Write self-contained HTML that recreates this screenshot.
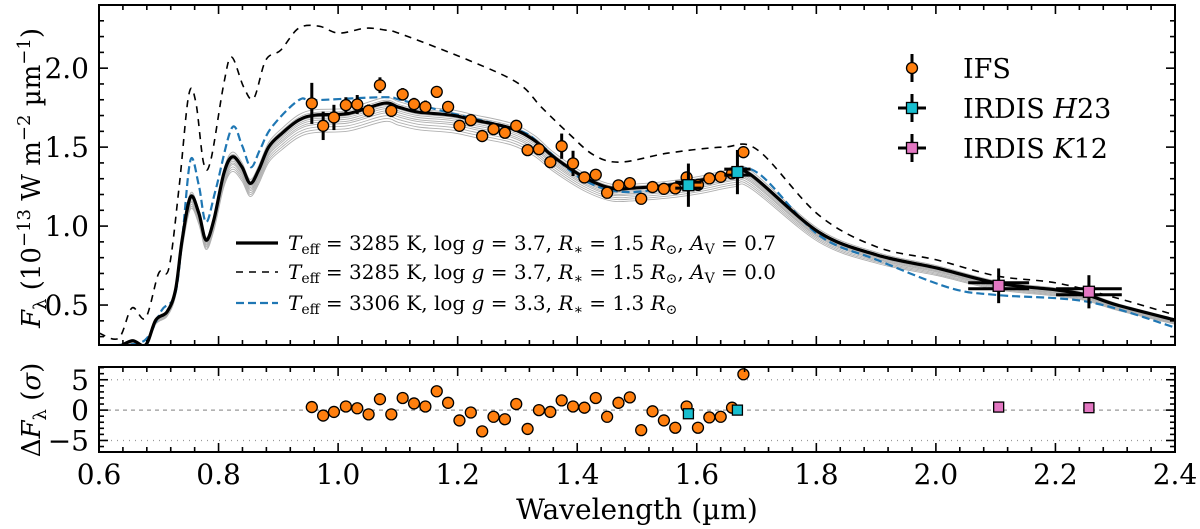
<!DOCTYPE html>
<html><head><meta charset="utf-8">
<style>
html,body{margin:0;padding:0;background:#fff;}
svg{display:block;font-family:"DejaVu Serif","Liberation Serif",serif;}
</style></head>
<body>
<svg id="chart" width="1200" height="529" viewBox="0 0 1200 529" xmlns="http://www.w3.org/2000/svg"></svg>
<script>
// ---- data ----
const ifsWave = [0.956,0.975,0.993,1.013,1.032,1.051,1.070,1.089,1.108,1.127,1.146,1.165,1.184,1.203,1.222,1.241,1.260,1.279,1.298,1.317,1.336,1.355,1.374,1.393,1.412,1.431,1.450,1.469,1.488,1.507,1.526,1.545,1.564,1.583,1.602,1.621,1.640,1.659,1.678];
const ifsFlux = [1.777,1.635,1.688,1.766,1.770,1.730,1.892,1.730,1.834,1.772,1.755,1.850,1.755,1.635,1.671,1.570,1.614,1.591,1.635,1.481,1.487,1.405,1.506,1.397,1.308,1.325,1.211,1.258,1.272,1.173,1.247,1.236,1.239,1.308,1.261,1.302,1.312,1.334,1.468];
const ifsErr = [0.13,0.09,0.08,0.05,0.06,0.04,0.05,0.04,0.04,0.04,0.04,0.03,0.03,0.02,0.02,0.02,0.02,0.02,0.02,0.02,0.02,0.03,0.08,0.08,0.02,0.02,0.02,0.02,0.02,0.02,0.02,0.02,0.02,0.02,0.02,0.02,0.02,0.02,0.02];
const ifsResid = [0.5,-0.9,-0.3,0.6,0.3,-0.7,1.8,-0.7,2.0,1.1,0.6,3.1,1.2,-1.7,-0.4,-3.5,-1.1,-1.5,1.0,-3.1,0.0,-0.3,1.6,0.6,0.4,2.0,-1.1,1.2,2.1,-3.3,-0.2,-1.7,-2.9,0.6,-2.9,-1.2,-1.1,0.4,5.9];
const h23Wave = [1.586,1.668];
const h23Flux = [1.259,1.342];
const h23WErr = [0.022,0.022];
const h23FErr = [0.137,0.14];
const h23Resid = [-0.6,0.0];
const k12Wave = [2.105,2.256];
const k12Flux = [0.622,0.584];
const k12WErr = [0.051,0.055];
const k12FErr = [0.11,0.105];
const k12Resid = [0.5,0.4];
const modelWave = [0.633,0.656,0.678,0.695,0.714,0.728,0.739,0.753,0.767,0.779,0.792,0.809,0.823,0.839,0.853,0.867,0.884,0.906,0.934,0.962,1.017,1.077,1.101,1.134,1.189,1.228,1.289,1.328,1.361,1.411,1.456,1.495,1.552,1.607,1.662,1.691,1.804,1.902,2.002,2.102,2.203,2.253,2.303,2.4];
const modelFlux = [0.234,0.274,0.247,0.405,0.458,0.595,0.911,1.185,1.082,0.911,1.038,1.335,1.439,1.375,1.270,1.354,1.502,1.587,1.671,1.703,1.713,1.778,1.753,1.722,1.703,1.671,1.620,1.544,1.437,1.310,1.241,1.241,1.259,1.291,1.335,1.323,0.962,0.816,0.734,0.639,0.595,0.563,0.500,0.405];
const noExtWave = [0.600,0.633,0.655,0.678,0.700,0.717,0.734,0.750,0.762,0.775,0.787,0.809,0.822,0.842,0.859,0.879,0.904,0.934,0.968,1.001,1.046,1.079,1.101,1.218,1.301,1.340,1.385,1.428,1.473,1.552,1.645,1.702,1.804,1.902,2.002,2.102,2.203,2.303,2.4];
const noExtFlux = [0.323,0.291,0.481,0.418,0.703,0.734,1.247,1.829,1.785,1.399,1.418,1.905,2.070,1.880,1.810,2.051,2.114,2.253,2.266,2.222,2.253,2.241,2.222,2.051,1.905,1.753,1.589,1.449,1.405,1.462,1.500,1.481,1.070,0.867,0.785,0.684,0.639,0.544,0.437];
const altWave = [0.633,0.677,0.705,0.727,0.739,0.753,0.767,0.779,0.795,0.822,0.839,0.854,0.869,0.889,0.934,0.962,1.077,1.106,1.189,1.301,1.340,1.411,1.490,1.607,1.662,1.707,1.804,1.902,2.024,2.104,2.256,2.403];
const altFlux = [0.247,0.278,0.468,0.563,0.911,1.418,1.259,1.025,1.228,1.620,1.513,1.373,1.481,1.627,1.797,1.797,1.816,1.797,1.715,1.608,1.513,1.291,1.215,1.291,1.354,1.323,0.943,0.785,0.608,0.563,0.519,0.354];
const gridScale = [0.935,0.945,0.955,0.965,0.972,0.98,0.987,0.993,1.0,1.01,1.02];
const xTicks = [0.6,0.8,1.0,1.2,1.4,1.6,1.8,2.0,2.2,2.4];
const xTickLabels = ["0.6","0.8","1.0","1.2","1.4","1.6","1.8","2.0","2.2","2.4"];
const yTicks = [0.5,1.0,1.5,2.0];
const yTickLabels = ["0.5","1.0","1.5","2.0"];
const rTicks = [-5,0,5];
const rTickLabels = ["\u22125","0","5"];

// ---- scales ----
const L=99, R=1175, T1=5, B1=345, T2=367, B2=452;
const X0=0.6, X1=2.4, Y0=0.247, Y1=2.40, RY0=-6.9, RY1=7.1;
const sx = w => L + (w-X0)/(X1-X0)*(R-L);
const sy = f => B1 - (f-Y0)/(Y1-Y0)*(B1-T1);
const sr = r => B2 - (r-RY0)/(RY1-RY0)*(B2-T2);

const NS="http://www.w3.org/2000/svg";
const svg=document.getElementById('chart');
function mk(tag, attrs, parent){const e=document.createElementNS(NS,tag);for(const k in attrs)e.setAttribute(k,attrs[k]);(parent||svg).appendChild(e);return e;}

const defs=mk('defs',{});
const c1=mk('clipPath',{id:'clipTop'},defs); mk('rect',{x:L,y:T1,width:R-L,height:B1-T1},c1);
const c2=mk('clipPath',{id:'clipBot'},defs); mk('rect',{x:L,y:T2,width:R-L,height:B2-T2},c2);

const gTop=mk('g',{'clip-path':'url(#clipTop)'});



// smooth Catmull-Rom path through data points
function pathFrom(ws, fs, scale){
  const P=ws.map((w,i)=>[sx(w),sy(fs[i]*scale)]);
  let d='M'+P[0][0].toFixed(1)+','+P[0][1].toFixed(1);
  for(let i=0;i<P.length-1;i++){
    const p0=P[Math.max(0,i-1)],p1=P[i],p2=P[i+1],p3=P[Math.min(P.length-1,i+2)];
    const c1x=p1[0]+(p2[0]-p0[0])/6, c1y=p1[1]+(p2[1]-p0[1])/6;
    const c2x=p2[0]-(p3[0]-p1[0])/6, c2y=p2[1]-(p3[1]-p1[1])/6;
    d+='C'+c1x.toFixed(1)+','+c1y.toFixed(1)+' '+c2x.toFixed(1)+','+c2y.toFixed(1)+' '+p2[0].toFixed(1)+','+p2[1].toFixed(1);
  }
  return d;
}

for(let k=0;k<gridScale.length;k++){
  const p=mk('path',{d:pathFrom(modelWave,modelFlux,gridScale[k]),fill:'none',stroke:'#b0b0b0','stroke-width':0.9},gTop);
  
  
}
let p=mk('path',{d:pathFrom(noExtWave,noExtFlux,1),fill:'none',stroke:'#000','stroke-width':1.6,'stroke-dasharray':'7,6'},gTop);


p=mk('path',{d:pathFrom(altWave,altFlux,1),fill:'none',stroke:'#1f77b4','stroke-width':2.2,'stroke-dasharray':'8,4'},gTop);


p=mk('path',{d:pathFrom(modelWave,modelFlux,1),fill:'none',stroke:'#000','stroke-width':3.2},gTop);



for(let i=0;i<ifsWave.length;i++){
  const x=sx(ifsWave[i]);
  const e=mk('line',{x1:x,x2:x,y1:sy(ifsFlux[i]+ifsErr[i]),y2:sy(ifsFlux[i]-ifsErr[i]),stroke:'#000','stroke-width':3},gTop);
  
  
}
for(let i=0;i<ifsWave.length;i++){
  const c=mk('circle',{cx:sx(ifsWave[i]),cy:sy(ifsFlux[i]),r:5.5,fill:'#ff7f0e',stroke:'#000','stroke-width':1.3},gTop);
  
  
}
function photPoint(ws,fs,we,fe,color,name,g){
  for(let i=0;i<ws.length;i++){
    const x=sx(ws[i]), y=sy(fs[i]);
    for(const off of [-3,3]){
      const h=mk('line',{x1:sx(ws[i]-we[i]),x2:sx(ws[i]+we[i]),y1:y+off,y2:y+off,stroke:'#000','stroke-width':3},g);
      
      
    }
    const v=mk('line',{x1:x,x2:x,y1:sy(fs[i]+fe[i]),y2:sy(fs[i]-fe[i]),stroke:'#000','stroke-width':3},g);
    
    
    const s=mk('rect',{x:x-5.5,y:y-5.5,width:11,height:11,fill:color,stroke:'#000','stroke-width':1.3},g);
    
    
  }
}
photPoint(h23Wave,h23Flux,h23WErr,h23FErr,'#17becf','irdis-h23',gTop);
photPoint(k12Wave,k12Flux,k12WErr,k12FErr,'#e377c2','irdis-k12',gTop);

const gBot=mk('g',{'clip-path':'url(#clipBot)'});


[[5,'1,5'],[-5,'1,5'],[0,'4,4']].forEach(([v,da])=>{
  const l=mk('line',{x1:L,x2:R,y1:sr(v),y2:sr(v),stroke:'#999','stroke-width':1.2,'stroke-dasharray':da},gBot);
  
  
});
for(let i=0;i<ifsWave.length;i++){
  const c=mk('circle',{cx:sx(ifsWave[i]),cy:sr(ifsResid[i]),r:5.5,fill:'#ff7f0e',stroke:'#000','stroke-width':1.3},gBot);
  
  
}
function resSq(ws,rs,color,name){
  for(let i=0;i<ws.length;i++){
    const s=mk('rect',{x:sx(ws[i])-5,y:sr(rs[i])-5,width:10,height:10,fill:color,stroke:'#000','stroke-width':1.3},gBot);
    
    
  }
}
resSq(h23Wave,h23Resid,'#17becf','irdis-h23-residual');
resSq(k12Wave,k12Resid,'#e377c2','irdis-k12-residual');

function frame(t,b,name){
  const r=mk('rect',{x:L,y:t,width:R-L,height:b-t,fill:'none',stroke:'#000','stroke-width':2});
  
  
}
frame(T1,B1,'spectrum-axes-frame');
frame(T2,B2,'residual-axes-frame');
function tick(x1,y1,x2,y2){const t=mk('line',{x1,y1,x2,y2,stroke:'#000','stroke-width':1.6});
  
  }
for(let w=0.6;w<=2.4001;w+=0.04){
  const x=sx(w); const maj=Math.abs((w-0.6)/0.2-Math.round((w-0.6)/0.2))<0.01;
  const len=maj?9:5;
  tick(x,T1,x,T1+len); tick(x,B1,x,B1-len);
  tick(x,T2,x,T2+len); tick(x,B2,x,B2-len);
}
for(let f=0.3;f<=2.40;f+=0.1){
  const y=sy(f); if(y<T1||y>B1)continue;
  const maj=Math.abs(f*2-Math.round(f*2))<0.01; const len=maj?9:5;
  tick(L,y,L+len,y); tick(R,y,R-len,y);
}
for(let r=-6;r<=7;r++){
  const y=sr(r); const maj=r%5===0; const len=maj?9:5;
  tick(L,y,L+len,y); tick(R,y,R-len,y);
}
function txt(s,attrs,name){const t=mk('text',attrs);t.textContent=s;return t;}
for(let i=0;i<xTicks.length;i++) txt(xTickLabels[i],{x:sx(xTicks[i]),y:484,'font-size':28,'text-anchor':'middle'},'x-tick-label');
for(let i=0;i<yTicks.length;i++) txt(yTickLabels[i],{x:L-10,y:sy(yTicks[i])+10,'font-size':28,'text-anchor':'end'},'y-tick-label');
for(let i=0;i<rTicks.length;i++) txt(rTickLabels[i],{x:L-10,y:sr(rTicks[i])+10,'font-size':28,'text-anchor':'end'},'residual-y-tick-label');
</script>
<svg style="position:absolute;left:0;top:0" width="1200" height="529" font-family="DejaVu Serif, Liberation Serif, serif">
  <text x="637" y="519" font-size="28" text-anchor="middle">Wavelength (µm)</text>
  <text transform="translate(40,178) rotate(-90)" font-size="26" text-anchor="middle"><tspan font-style="italic">F</tspan><tspan font-size="18" dy="6">λ</tspan><tspan dy="-6"> (10</tspan><tspan font-size="18" dy="-10">−13</tspan><tspan dy="10"> W m</tspan><tspan font-size="18" dy="-10">−2</tspan><tspan dy="10"> µm</tspan><tspan font-size="18" dy="-10">−1</tspan><tspan dy="10">)</tspan></text>
  <text transform="translate(40,410) rotate(-90)" font-size="26" text-anchor="middle">Δ<tspan font-style="italic">F</tspan><tspan font-size="18" dy="6">λ</tspan><tspan dy="-6"> (</tspan><tspan font-style="italic">σ</tspan>)</text>
  <g>
    <line x1="912" x2="912" y1="54" y2="82" stroke="#000" stroke-width="3"/>
    <circle cx="912" cy="68" r="5.5" fill="#ff7f0e" stroke="#000" stroke-width="1.3"/>
    <text x="963" y="78" font-size="27">IFS</text>
    <line x1="912" x2="912" y1="94" y2="122" stroke="#000" stroke-width="3"/>
    <line x1="898" x2="926" y1="108" y2="108" stroke="#000" stroke-width="3"/>
    <rect x="906.5" y="102.5" width="11" height="11" fill="#17becf" stroke="#000" stroke-width="1.3"/>
    <text x="963" y="118" font-size="27">IRDIS <tspan font-style="italic">H</tspan>23</text>
    <line x1="912" x2="912" y1="134" y2="162" stroke="#000" stroke-width="3"/>
    <line x1="898" x2="926" y1="148" y2="148" stroke="#000" stroke-width="3"/>
    <rect x="906.5" y="142.5" width="11" height="11" fill="#e377c2" stroke="#000" stroke-width="1.3"/>
    <text x="963" y="158" font-size="27">IRDIS <tspan font-style="italic">K</tspan>12</text>
  </g>
  <g font-size="20">
    <line x1="236" x2="278" y1="243" y2="243" stroke="#000" stroke-width="3.2"/>
    <text x="288" y="250"><tspan font-style="italic">T</tspan><tspan font-size="14" dy="4">eff</tspan><tspan dy="-4"> = 3285 K, log </tspan><tspan font-style="italic">g</tspan> = 3.7, <tspan font-style="italic">R</tspan><tspan font-size="14" dy="4">∗</tspan><tspan dy="-4"> = 1.5 </tspan><tspan font-style="italic">R</tspan><tspan font-size="14" dy="4">⊙</tspan><tspan dy="-4">, </tspan><tspan font-style="italic">A</tspan><tspan font-size="14" dy="4">V</tspan><tspan dy="-4"> = 0.7</tspan></text>
    <line x1="236" x2="278" y1="272" y2="272" stroke="#000" stroke-width="1.6" stroke-dasharray="7,6"/>
    <text x="288" y="279"><tspan font-style="italic">T</tspan><tspan font-size="14" dy="4">eff</tspan><tspan dy="-4"> = 3285 K, log </tspan><tspan font-style="italic">g</tspan> = 3.7, <tspan font-style="italic">R</tspan><tspan font-size="14" dy="4">∗</tspan><tspan dy="-4"> = 1.5 </tspan><tspan font-style="italic">R</tspan><tspan font-size="14" dy="4">⊙</tspan><tspan dy="-4">, </tspan><tspan font-style="italic">A</tspan><tspan font-size="14" dy="4">V</tspan><tspan dy="-4"> = 0.0</tspan></text>
    <line x1="236" x2="278" y1="303" y2="303" stroke="#1f77b4" stroke-width="2.2" stroke-dasharray="8,4"/>
    <text x="288" y="310"><tspan font-style="italic">T</tspan><tspan font-size="14" dy="4">eff</tspan><tspan dy="-4"> = 3306 K, log </tspan><tspan font-style="italic">g</tspan> = 3.3, <tspan font-style="italic">R</tspan><tspan font-size="14" dy="4">∗</tspan><tspan dy="-4"> = 1.3 </tspan><tspan font-style="italic">R</tspan><tspan font-size="14" dy="4">⊙</tspan></text>
  </g>
</svg>
</body></html>
